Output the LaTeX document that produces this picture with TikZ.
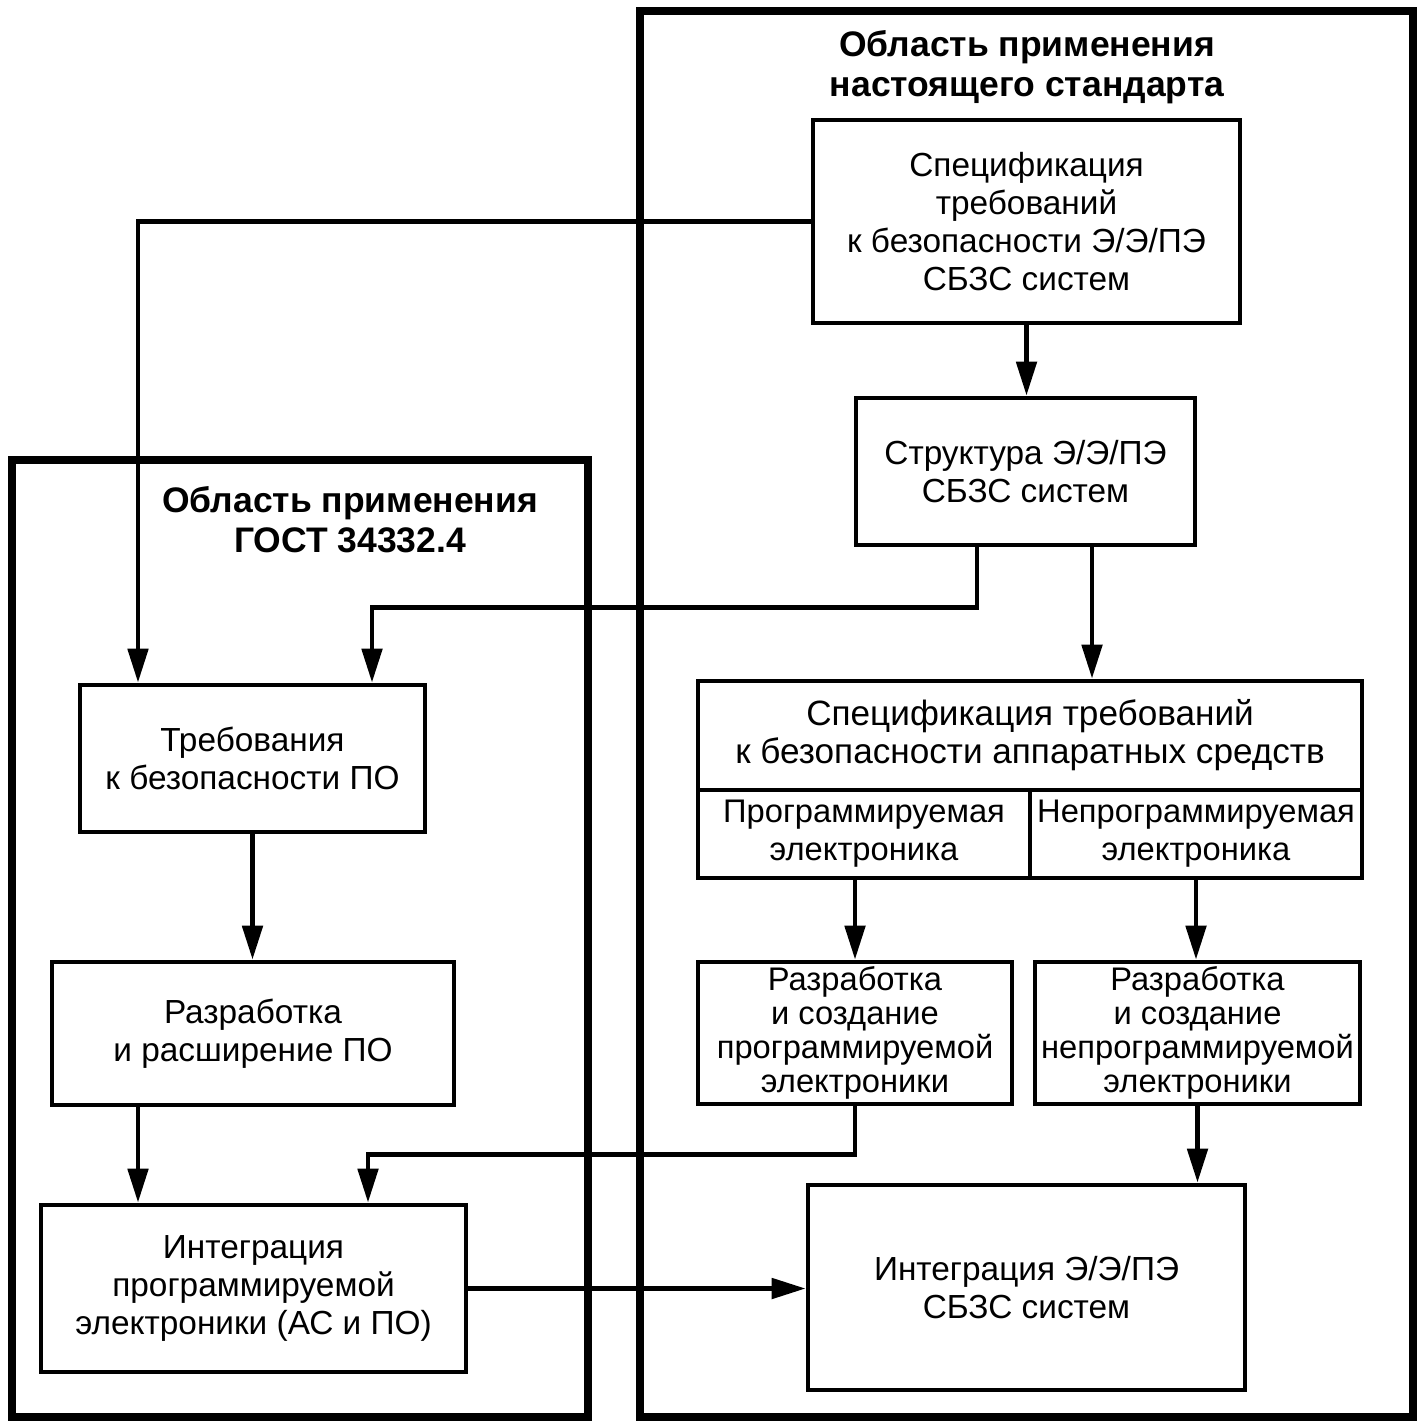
\documentclass[tikz,border=0pt]{standalone}
\usepackage{fontspec}
\setmainfont{Liberation Sans}
\usetikzlibrary{arrows.meta, positioning, calc}

\begin{document}
\begin{tikzpicture}[
    block/.style={rectangle, draw=black, line width=1.3pt, align=center, inner sep=0pt, font=\fontsize{9.5pt}{10.8pt}\selectfont},
    tightblock/.style={block, font=\fontsize{9.3pt}{9.7pt}\selectfont},
    cellblock/.style={block, font=\fontsize{9.3pt}{10.8pt}\selectfont},
    wideblock/.style={block, font=\fontsize{10pt}{10.8pt}\selectfont},
    title/.style={align=center, inner sep=0pt, font=\fontsize{10.1pt}{11.4pt}\selectfont\bfseries},
    frame/.style={draw=black, line width=2.5pt},
    arrow/.style={-{Triangle[length=0.34cm, width=0.2cm]}, line width=1.4pt, draw=black}
]
    \useasboundingbox (0,0) rectangle (14.25,-14.26);

    % Frames
    \draw[frame] (6.40,-0.11) rectangle (14.13,-14.17);
    \draw[frame] (0.12,-4.60) rectangle (5.88,-14.17);
    \node[title] (titleright) at (10.27,-0.67) {Область применения\\настоящего стандарта};
    \node[title] (titleleft) at (3.50,-5.20) {Область применения\\ГОСТ 34332.4};

    % Right column
    \node[block, minimum width=4.27cm, minimum height=2.03cm] (spec) at (10.265,-2.215) {Спецификация\\требований\\к безопасности Э/Э/ПЭ\\СБЗС систем};
    \node[block, minimum width=3.39cm, minimum height=1.47cm] (struct) at (10.255,-4.715) {Структура Э/Э/ПЭ\\СБЗС систем};
    \node[wideblock, minimum width=6.64cm, minimum height=1.09cm] (hwspec) at (10.30,-7.355) {Спецификация требований\\к безопасности аппаратных средств};
    \node[cellblock, minimum width=3.32cm, minimum height=0.88cm] (hwprog) at (8.64,-8.34) {Программируемая\\электроника};
    \node[cellblock, minimum width=3.32cm, minimum height=0.88cm] (hwnon) at (11.96,-8.34) {Непрограммируемая\\электроника};
    \node[tightblock, minimum width=3.14cm, minimum height=1.42cm] (devprog) at (8.55,-10.33) {Разработка\\и создание\\программируемой\\электроники};
    \node[tightblock, minimum width=3.25cm, minimum height=1.42cm] (devnon) at (11.975,-10.33) {Разработка\\и создание\\непрограммируемой\\электроники};
    \node[block, minimum width=4.37cm, minimum height=2.05cm] (integ) at (10.265,-12.875) {Интеграция Э/Э/ПЭ\\СБЗС систем};

    % Left column
    \node[block, minimum width=3.45cm, minimum height=1.47cm] (req) at (2.525,-7.585) {Требования\\к безопасности ПО};
    \node[block, minimum width=4.02cm, minimum height=1.43cm] (dev) at (2.53,-10.335) {Разработка\\и расширение ПО};
    \node[block, minimum width=4.25cm, minimum height=1.67cm] (integprog) at (2.535,-12.885) {Интеграция\\программируемой\\электроники (АС и ПО)};

    % Flows
    \draw[arrow] (spec.south) -- (spec.south |- struct.north);
    \draw[arrow] (spec.west) -| ([xshift=-1.145cm]req.north);
    \draw[arrow] ([xshift=-0.485cm]struct.south) -- ++(0,-0.6) -| ([xshift=1.195cm]req.north);
    \draw[arrow] ([xshift=0.665cm]struct.south) -- ([xshift=0.665cm]struct.south |- hwspec.north);
    \draw[arrow] (devprog.north |- hwprog.south) -- (devprog.north);
    \draw[arrow] (hwnon.south) -- (hwnon.south |- devnon.north);
    \draw[arrow] (devnon.south) -- (devnon.south |- integ.north);
    \draw[arrow] (devprog.south) -- ++(0,-0.48) -| ([xshift=1.145cm]integprog.north);
    \draw[arrow] (req.south) -- (req.south |- dev.north);
    \draw[arrow] ([xshift=-1.15cm]dev.south) -- ([xshift=-1.15cm]dev.south |- integprog.north);
    \draw[arrow] (integprog.east) -- (integprog.east -| integ.west);

\end{tikzpicture}
\end{document}
